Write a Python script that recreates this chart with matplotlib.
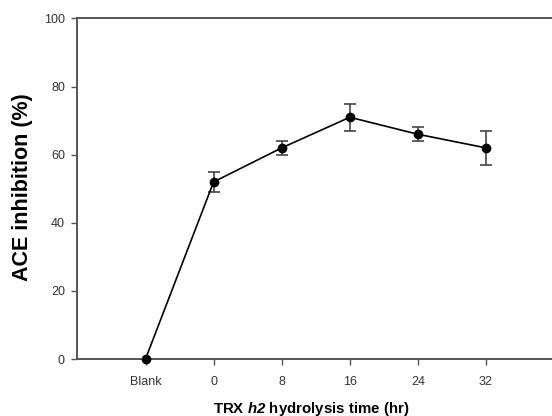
import matplotlib
matplotlib.use("Agg")
import matplotlib.pyplot as plt
import numpy as np

plt.rcParams['font.family'] = ['Liberation Sans', 'DejaVu Sans']
plt.rcParams['mathtext.fontset'] = 'custom'
plt.rcParams['mathtext.rm'] = 'Liberation Sans:bold:italic'
plt.rcParams['mathtext.it'] = 'Liberation Sans:bold:italic'
plt.rcParams['mathtext.bf'] = 'Liberation Sans:bold:italic'

categories = ['Blank', '0', '8', '16', '24', '32']
inhibition = [0, 52, 62, 71, 66, 62]
errors = [0, 3, 2, 4, 2, 5]
yticks = [0, 20, 40, 60, 80, 100]

fig = plt.figure(figsize=(5.52, 4.16), dpi=100)
W, H = 552, 416
left, right, top, bottom = 77.4, 552, 18.5, 359
step = 68.1
ax = fig.add_axes([left / W, (H - bottom) / H, (right - left) / W, (bottom - top) / H])

x = np.arange(len(categories))
ax.errorbar(x, inhibition, yerr=[e if e > 0 else np.nan for e in errors],
            fmt='-o', color='black', ecolor='#444444', elinewidth=1.2,
            capsize=4, capthick=1.2, markersize=6, linewidth=1.2, zorder=3,
            clip_on=False)

ax.set_xlim(-1, -1 + (right - left) / step)
ax.set_ylim(0, 100)
ax.set_xticks(x)
ax.set_xticklabels(categories)
ax.set_yticks(yticks)

for s in ['left', 'top', 'bottom']:
    ax.spines[s].set_color('#555555')
    ax.spines[s].set_linewidth(1.4)
ax.spines['right'].set_visible(False)
ax.tick_params(direction='out', length=4, width=1, color='#555555',
               labelsize=9, labelcolor='#333333')
ax.tick_params(axis='y', pad=5)
ax.tick_params(axis='x', pad=8)

fig.text(22.5 / W, 1 - 187.5 / H, 'ACE inhibition (%)', rotation=90,
         fontsize=15.5, fontweight='bold', ha='center', va='center')
fig.text(311 / W, 3.5 / H, r'TRX $h2$ hydrolysis time (hr)',
         fontsize=10.8, fontweight='bold', ha='center', va='baseline')

fig.savefig('out.png', dpi=100)
